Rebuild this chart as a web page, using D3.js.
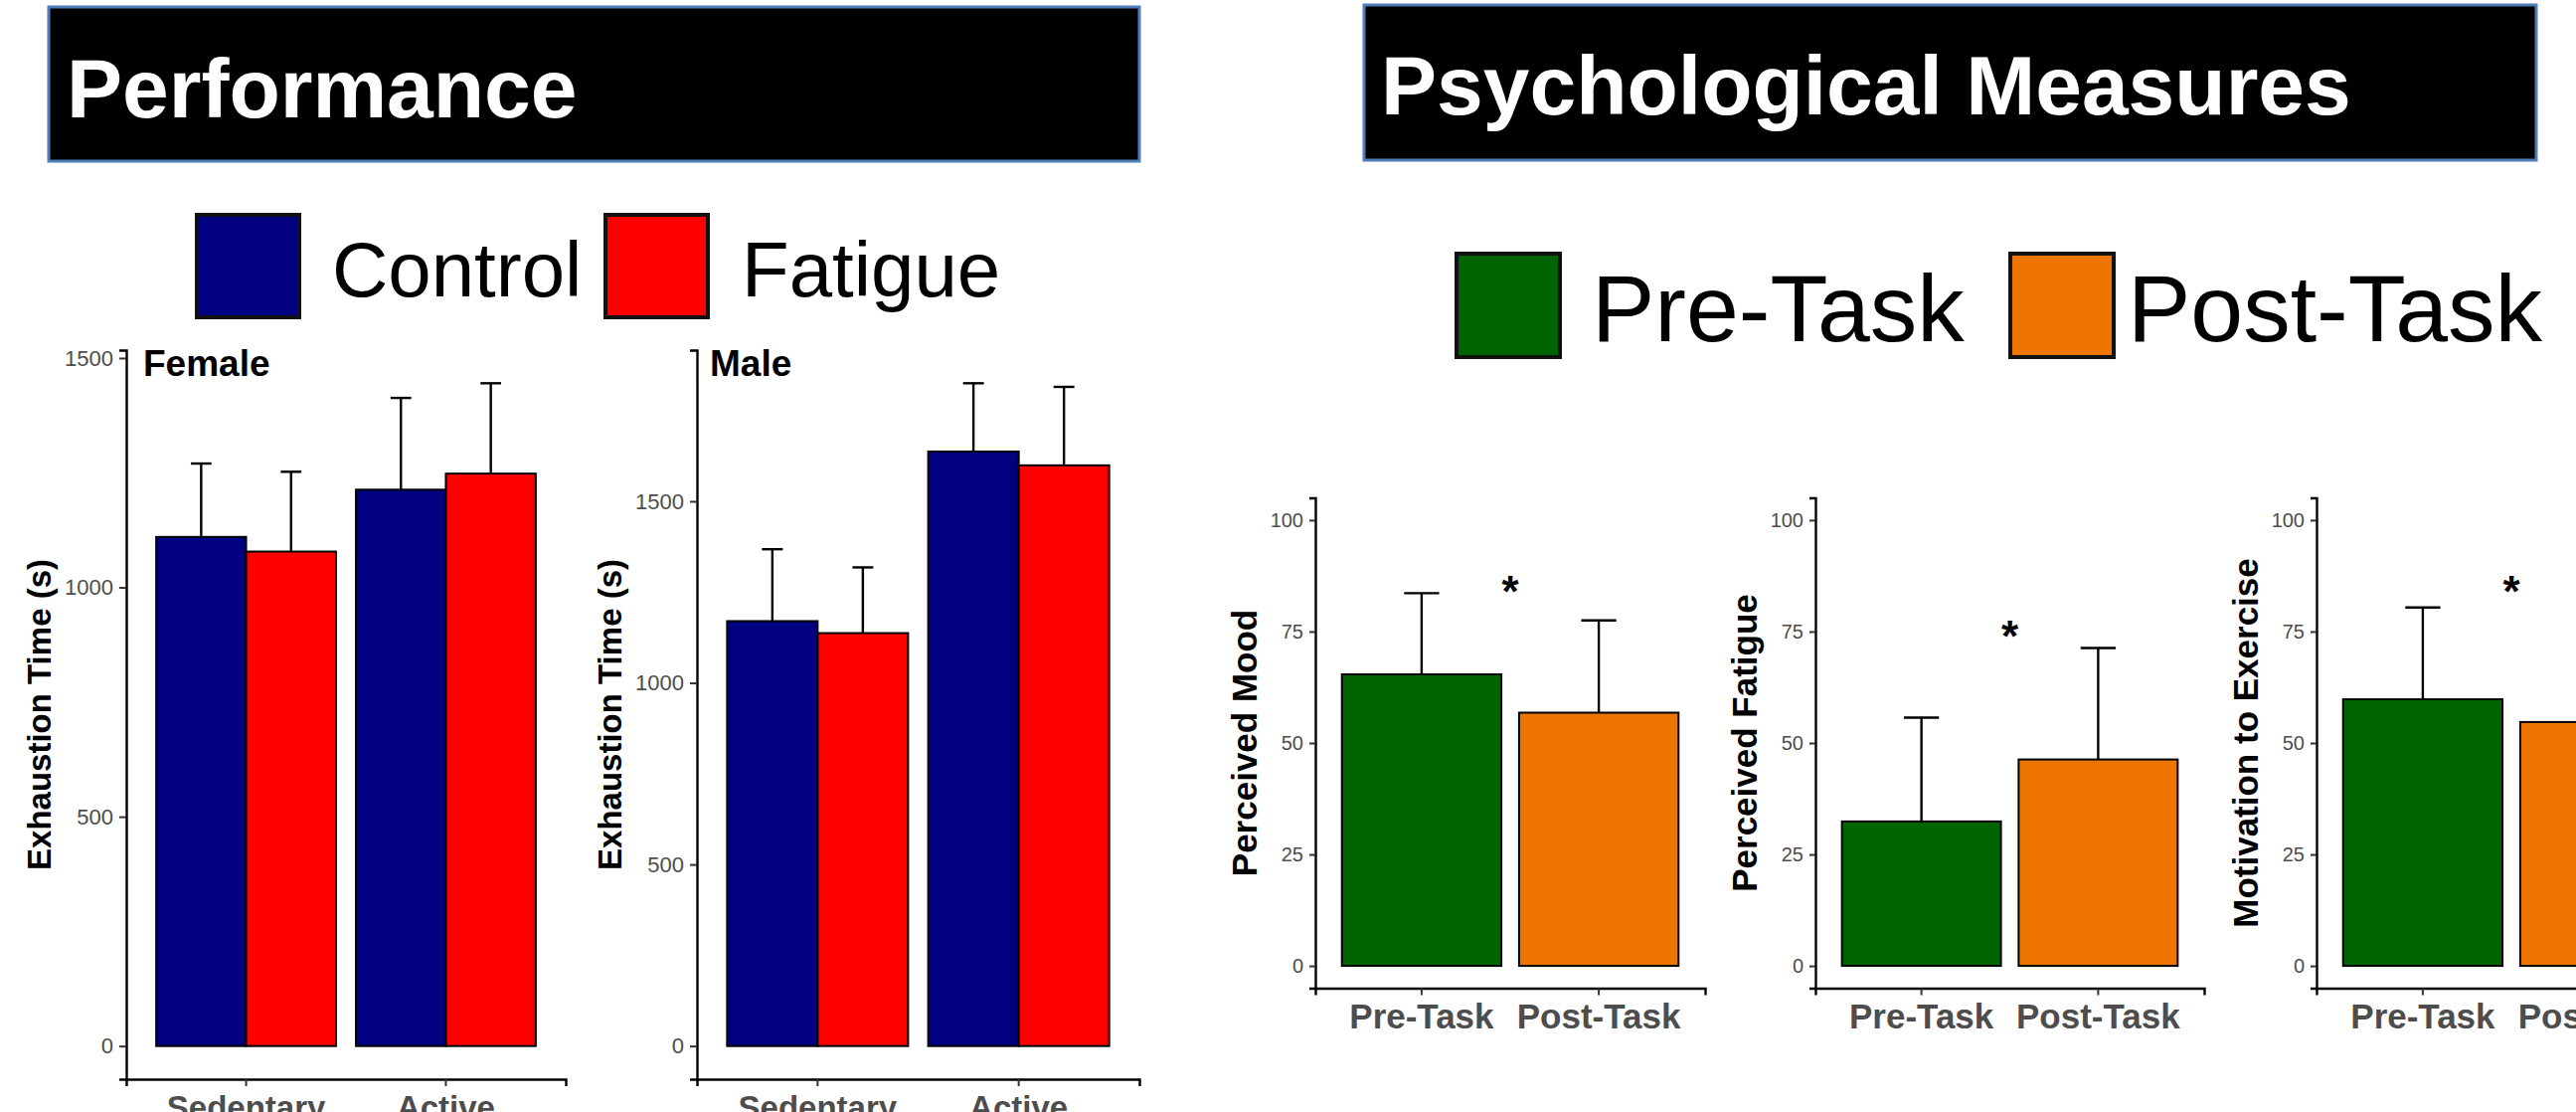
<!DOCTYPE html>
<html>
<head>
<meta charset="utf-8">
<script src="https://cdn.jsdelivr.net/npm/d3@7"></script>
<style>
  html, body { margin: 0; padding: 0; background: #fff; overflow: hidden; }
  svg { display: block; }
  text { font-family: "Liberation Sans", Arial, Helvetica, sans-serif; }
</style>
</head>
<body>
<svg id="poster" width="2591" height="1118"></svg>
<script>
// ---- Performance: time to exhaustion (s), mean and SD ----
const activityGroups = ["Sedentary", "Active"];
const conditions = ["Control", "Fatigue"];
const femaleControl = [1110, 1213];
const femaleFatigue = [1078, 1248];
const femaleControlSD = [160, 200];
const femaleFatigueSD = [174, 197];
const maleControl = [1170, 1637];
const maleFatigue = [1137, 1599];
const maleControlSD = [198, 188];
const maleFatigueSD = [181, 216];
const exhaustionTicks = [0, 500, 1000, 1500];

// ---- Psychological measures (0-100 scale), mean and SD ----
const timepoints = ["Pre-Task", "Post-Task"];
const moodMean = [65.4, 56.8];
const moodSD = [18.2, 20.7];
const fatigueMean = [32.4, 46.3];
const fatigueSD = [23.3, 25.0];
const motivationMean = [59.8, 54.7];
const motivationSD = [20.6, 21.0];
const ratingTicks = [0, 25, 50, 75, 100];
const ratingDomain = [0, 100];
const significanceLevel = [86, 76, 86];   // height of the * marker on each chart

const conditionColors = ["#000080", "#ff0000"];
const timepointColors = ["#006400", "#ee7600"];

const svg = d3.select("#poster");
const plainNumber = d3.format("d");

// ---- section banners ----
function banner(x, y, w, h, label, tx, ty) {
  svg.append("rect")
    .attr("x", x).attr("y", y).attr("width", w).attr("height", h)
    .attr("fill", "#000").attr("stroke", "#4f7fb8").attr("stroke-width", 3);
  svg.append("text")
    .attr("x", tx).attr("y", ty)
    .attr("fill", "#fff").attr("font-size", 84).attr("font-weight", "bold")
    .text(label);
}
banner(49, 7, 1097, 155, "Performance", 67, 118);
banner(1372, 5, 1179, 156, "Psychological Measures", 1389, 115);

// ---- legends ----
function legend(items, colors, boxX, boxY, size, textX, baseline, fontSize) {
  const g = svg.append("g");
  items.forEach((name, i) => {
    g.append("rect")
      .attr("x", boxX[i]).attr("y", boxY).attr("width", size).attr("height", size)
      .attr("fill", colors[i]).attr("stroke", "#111").attr("stroke-width", 4);
    g.append("text")
      .attr("x", textX[i]).attr("y", baseline)
      .attr("font-size", fontSize).attr("fill", "#000")
      .text(name);
  });
}
legend(conditions, conditionColors, [198, 609], 216, 103, [334, 746], 298, 78);
legend(timepoints, timepointColors, [1465, 2022], 255, 104, [1601, 2140], 343, 95);

// ---- shared axis styling (classic theme look) ----
function styleAxis(g, fontSize) {
  g.select(".domain").attr("stroke", "#000").attr("stroke-width", 2.4);
  g.selectAll(".tick line").attr("stroke", "#333").attr("stroke-width", 2);
  g.selectAll(".tick text")
    .attr("fill", "#4d4d4d")
    .attr("font-size", fontSize)
    .attr("font-family", "'Liberation Sans', Arial, sans-serif");
}

// ---- grouped bar panel: exhaustion time by activity and condition ----
function exhaustionPanel(opt) {
  const g = svg.append("g");
  const tops = opt.control.map((v, i) => v + opt.controlSD[i])
    .concat(opt.fatigue.map((v, i) => v + opt.fatigueSD[i]));
  const maxTop = d3.max(tops);
  const pad = maxTop * 0.05;
  const y = d3.scaleLinear().domain([-pad, maxTop + pad]).range([opt.bottom, opt.top]);
  const x = d3.scaleBand().domain(activityGroups)
    .range([opt.left, opt.right]).paddingInner(0.1).paddingOuter(0.15);
  const xs = d3.scaleBand().domain(conditions).range([0, x.bandwidth()]);
  const color = d3.scaleOrdinal().domain(conditions).range(conditionColors);

  const rows = [];
  activityGroups.forEach((grp, i) => {
    rows.push({ grp, cond: "Control", mean: opt.control[i], sd: opt.controlSD[i] });
    rows.push({ grp, cond: "Fatigue", mean: opt.fatigue[i], sd: opt.fatigueSD[i] });
  });

  g.selectAll("rect.bar").data(rows).join("rect")
    .attr("class", "bar")
    .attr("x", d => x(d.grp) + xs(d.cond))
    .attr("y", d => y(d.mean))
    .attr("width", xs.bandwidth())
    .attr("height", d => y(0) - y(d.mean))
    .attr("fill", d => color(d.cond))
    .attr("stroke", "#000").attr("stroke-width", 2);

  const cap = xs.bandwidth() * 0.23;
  const cx = d => x(d.grp) + xs(d.cond) + xs.bandwidth() / 2;
  const eb = g.selectAll("g.err").data(rows).join("g").attr("class", "err")
    .attr("stroke", "#000").attr("stroke-width", 2.4);
  eb.append("line")
    .attr("x1", cx).attr("x2", cx)
    .attr("y1", d => y(d.mean)).attr("y2", d => y(d.mean + d.sd));
  eb.append("line")
    .attr("x1", d => cx(d) - cap / 2).attr("x2", d => cx(d) + cap / 2)
    .attr("y1", d => y(d.mean + d.sd)).attr("y2", d => y(d.mean + d.sd));

  const ay = g.append("g").attr("transform", `translate(${opt.left},0)`)
    .call(d3.axisLeft(y).tickValues(exhaustionTicks).tickFormat(plainNumber)
      .tickSizeOuter(0).tickSize(7).tickPadding(6));
  styleAxis(ay, 22);
  const ax = g.append("g").attr("transform", `translate(0,${opt.bottom})`)
    .call(d3.axisBottom(x).tickSizeOuter(0).tickSize(7).tickPadding(8));
  styleAxis(ax, 33);
  ax.selectAll(".tick text").attr("font-weight", "bold").attr("dy", null).attr("y", 40);

  g.append("text")
    .attr("transform", `translate(${opt.left - 76},${(opt.top + opt.bottom) / 2}) rotate(-90)`)
    .attr("text-anchor", "middle").attr("font-size", 33).attr("font-weight", "bold")
    .attr("fill", "#000").text("Exhaustion Time (s)");

  g.append("text")
    .attr("x", opt.left + opt.labelDx).attr("y", 378)
    .attr("font-size", 37).attr("font-weight", "bold").attr("fill", "#000")
    .text(opt.label);
}

exhaustionPanel({
  label: "Female", labelDx: 17, left: 127, right: 569, top: 352, bottom: 1085,
  control: femaleControl, fatigue: femaleFatigue,
  controlSD: femaleControlSD, fatigueSD: femaleFatigueSD
});
exhaustionPanel({
  label: "Male", labelDx: 13, left: 701, right: 1146, top: 352, bottom: 1085,
  control: maleControl, fatigue: maleFatigue,
  controlSD: maleControlSD, fatigueSD: maleFatigueSD
});

// ---- pre/post rating panels ----
function ratingPanel(opt) {
  const g = svg.append("g");
  const span = ratingDomain[1] - ratingDomain[0];
  const y = d3.scaleLinear()
    .domain([ratingDomain[0] - span * 0.05, ratingDomain[1] + span * 0.05])
    .range([opt.bottom, opt.top]);
  const x = d3.scaleBand().domain(timepoints)
    .range([opt.left, opt.right]).paddingInner(0.1).paddingOuter(0.15);
  const color = d3.scaleOrdinal().domain(timepoints).range(timepointColors);
  const rows = timepoints.map((t, i) => ({ t, mean: opt.mean[i], sd: opt.sd[i] }));

  g.selectAll("rect").data(rows).join("rect")
    .attr("x", d => x(d.t)).attr("y", d => y(d.mean))
    .attr("width", x.bandwidth()).attr("height", d => y(0) - y(d.mean))
    .attr("fill", d => color(d.t))
    .attr("stroke", "#000").attr("stroke-width", 2);

  const cap = x.bandwidth() * 0.22;
  const cx = d => x(d.t) + x.bandwidth() / 2;
  const eb = g.selectAll("g.err").data(rows).join("g").attr("class", "err")
    .attr("stroke", "#000").attr("stroke-width", 2.4);
  eb.append("line")
    .attr("x1", cx).attr("x2", cx)
    .attr("y1", d => y(d.mean)).attr("y2", d => y(d.mean + d.sd));
  eb.append("line")
    .attr("x1", d => cx(d) - cap / 2).attr("x2", d => cx(d) + cap / 2)
    .attr("y1", d => y(d.mean + d.sd)).attr("y2", d => y(d.mean + d.sd));

  // significance marker between the two bars
  const mid = (x(timepoints[0]) + x(timepoints[1]) + x.bandwidth()) / 2;
  g.append("text")
    .attr("x", mid).attr("y", y(opt.star)).attr("dy", "0.56em")
    .attr("text-anchor", "middle").attr("font-size", 44).attr("font-weight", "bold")
    .attr("fill", "#000").text("*");

  const ay = g.append("g").attr("transform", `translate(${opt.left},0)`)
    .call(d3.axisLeft(y).tickValues(ratingTicks).tickFormat(plainNumber)
      .tickSizeOuter(0).tickSize(6).tickPadding(6));
  styleAxis(ay, 20);
  const ax = g.append("g").attr("transform", `translate(0,${opt.bottom})`)
    .call(d3.axisBottom(x).tickSizeOuter(0).tickSize(7).tickPadding(8));
  styleAxis(ax, 35);
  ax.selectAll(".tick text").attr("font-weight", "bold").attr("dy", null).attr("y", 40);

  g.append("text")
    .attr("transform", `translate(${opt.left - 59},${(opt.top + opt.bottom) / 2}) rotate(-90)`)
    .attr("text-anchor", "middle").attr("font-size", 35).attr("font-weight", "bold")
    .attr("fill", "#000").text(opt.title);
}

ratingPanel({ title: "Perceived Mood", left: 1323, right: 1715, top: 500.5, bottom: 993.5,
  mean: moodMean, sd: moodSD, star: significanceLevel[0] });
ratingPanel({ title: "Perceived Fatigue", left: 1826, right: 2217, top: 500.5, bottom: 993.5,
  mean: fatigueMean, sd: fatigueSD, star: significanceLevel[1] });
ratingPanel({ title: "Motivation to Exercise", left: 2330, right: 2722, top: 500.5, bottom: 993.5,
  mean: motivationMean, sd: motivationSD, star: significanceLevel[2] });
</script>
</body>
</html>
